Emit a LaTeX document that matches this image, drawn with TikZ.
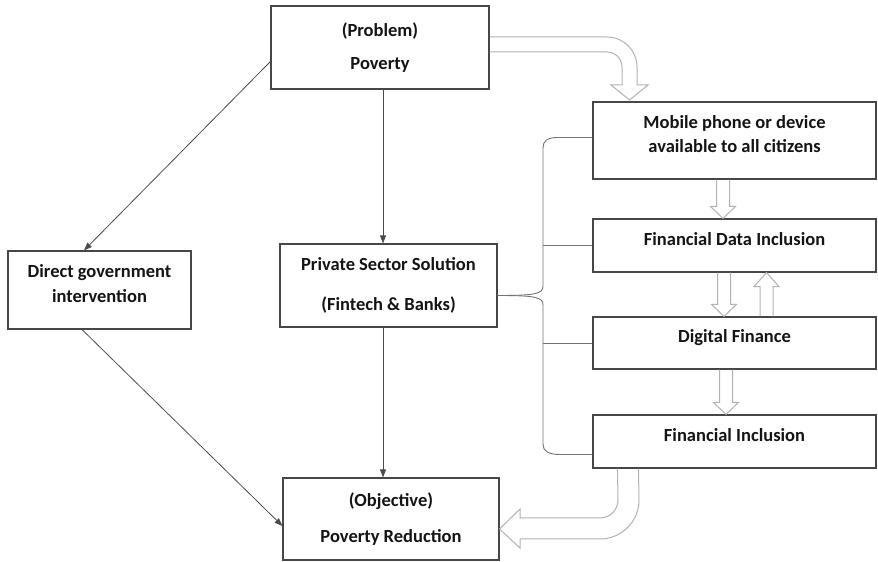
\documentclass[tikz,border=0pt]{standalone}
\usepackage{fontspec}
\setmainfont{Carlito}
\usepackage{tikz}
\usetikzlibrary{arrows.meta, calc}

\begin{document}
\begin{tikzpicture}[x=1pt,y=1pt,
  box/.style={draw=black!72, line width=1.1pt, fill=white, align=center, text=black!92,
    font=\bfseries\fontsize{18.5}{22.5}\selectfont, text depth=13pt, inner sep=2pt},
  tall/.style={box, text depth=3pt},
  thin/.style={draw=black!70, line width=0.8pt, -{Triangle[length=8pt,width=6pt]}},
  spineline/.style={draw=black!55, line width=0.9pt},
  hollow/.style={draw=black!30, line width=1pt},
]
\useasboundingbox (0,0) rectangle (878,562);
% ---------- left and middle boxes ----------
\node[tall, minimum width=218pt, minimum height=83pt] (prob) at (380,514.5) {(Problem)\\[11pt]Poverty};
\node[box, minimum width=183pt, minimum height=78pt] (govt) at (99.5,272) {Direct government\\[2pt]intervention};
\node[tall, minimum width=217pt, minimum height=83pt] (priv) at (388.5,276.5) {Private Sector Solution\\[17pt](Fintech \& Banks)};
\node[tall, minimum width=216pt, minimum height=82pt] (obj) at (391,43) {(Objective)\\[14pt]Poverty Reduction};
% ---------- right column ----------
\node[box, minimum width=283pt, minimum height=77pt] (mob)  at (734.5,421.5) {Mobile phone or device\\[2pt]available to all citizens};
\node[box, minimum width=283pt, minimum height=53pt] (fdi)  at (734.5,316.5) {Financial Data Inclusion};
\node[box, minimum width=283pt, minimum height=52pt] (dfin) at (734.5,219)   {Digital Finance};
\node[box, minimum width=283pt, minimum height=53pt] (finc) at (734.5,120.5) {Financial Inclusion};
% ---------- thin arrows ----------
\coordinate (mid)   at (383,0);
\coordinate (spine) at (543,0);
\draw[thin] ($(prob.west)+(0,-14)$) -- ($(govt.north)+(-15.5,0)$);
\draw[thin] ($(govt.south)+(-17.5,0)$) -- ($(obj.west)+(0,-7)$);
\draw[thin] (prob.south -| mid) -- (priv.north -| mid);
\draw[thin] (priv.south -| mid) -- (obj.north -| mid);
% ---------- brace from the private sector box ----------
\coordinate (tip) at ($(priv.east)+(0,-10)$);
\draw[spineline] (tip) .. controls (535,266.5) and (543,268) .. (543,276) -- (543,414)
  .. controls (543,421) and (547,424.5) .. (558,424.5) -- ($(mob.west)+(0,3)$);
\draw[spineline] (tip) .. controls (535,266.5) and (543,265) .. (543,257) -- (543,118)
  .. controls (543,111) and (548,107.5) .. (560,107.5) -- ($(finc.west)+(0,-13)$);
\draw[spineline] (fdi.west -| spine) -- (fdi.west);
\draw[spineline] (dfin.west -| spine) -- (dfin.west);
% ---------- hollow arrows ----------
\draw[hollow] ($(prob.east)+(0,10.5)$) -- (607,525) arc[start angle=90, end angle=0, radius=30pt]
  -- (637,477) -- (648,477) -- (629.5,462) -- (611,477) -- (622,477) -- (622,495)
  arc[start angle=0, end angle=90, radius=15pt] -- ($(prob.east)+(0,-4.5)$);
\foreach \a/\b/\x in {mob/fdi/723, fdi/dfin/724, dfin/finc/726}
  \draw[hollow] ($(\a.south -| \x,0)+(-6.5,0)$) -- ($(\b.north -| \x,0)+(-6.5,12)$) -- ++(-6,0)
    -- (\b.north -| \x,0) -- ++(12.5,12) -- ++(-6,0) -- ($(\a.south -| \x,0)+(6.5,0)$);
\draw[hollow] ($(dfin.north -| 766.5,0)+(-6.5,0)$) -- ($(fdi.south -| 766.5,0)+(-6.5,-14)$) -- ++(-6,0)
  -- (fdi.south -| 766.5,0) -- ++(12.5,-14) -- ++(-6,0) -- ($(dfin.north -| 766.5,0)+(6.5,0)$);
\draw[hollow] ($(finc.south west)+(25,0)$) -- (618,62) arc[start angle=0, end angle=-90, radius=18pt]
  -- (520,44) -- (520,53) -- ($(obj.east)+(0,-10)$) -- (520,14) -- (520,23) -- (600,23)
  arc[start angle=-90, end angle=0, radius=39pt] -- ($(finc.south west)+(46,0)$);
\end{tikzpicture}
\end{document}
